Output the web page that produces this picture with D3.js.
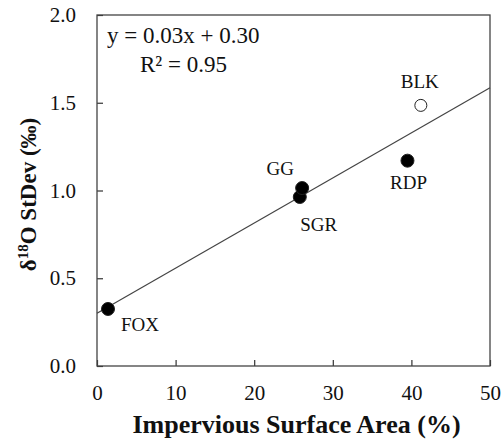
<!DOCTYPE html>
<html>
<head>
<meta charset="utf-8">
<script src="https://cdn.jsdelivr.net/npm/d3@7"></script>
<style>
  body { margin: 0; background: #fff; }
  text { font-family: "Liberation Serif", "Times New Roman", serif; }
</style>
</head>
<body>
<div id="chart"></div>
<script>
var w = 504;
var h = 440;

// site data
var sites = ["FOX", "SGR", "GG", "RDP", "BLK"];
var impervious = [1.4, 25.8, 26.1, 39.5, 41.2];
var stdev = [0.325, 0.963, 1.014, 1.17, 1.485];
var filled = [true, true, true, true, false];

var xTicks = [0, 10, 20, 30, 40, 50];
var yTicks = [0.0, 0.5, 1.0, 1.5, 2.0];

// regression line as drawn
var lineIntercept = 0.30;
var lineSlope = 0.0257;

var margin = {left: 97, right: 14, top: 15, bottom: 74};
var width = w - margin.left - margin.right,
    height = h - margin.top - margin.bottom;

var svg = d3.select("#chart")
    .append("svg")
    .attr("width", w)
    .attr("height", h);

var xScale = d3.scaleLinear().domain([0, 50]).range([0, width]),
    yScale = d3.scaleLinear().domain([0, 2]).range([height, 0]);

var g = svg.append("g")
    .attr("transform", "translate(" + margin.left + "," + margin.top + ")");

// x axis, ticks pointing in
var xAxis = g.append("g")
    .attr("transform", "translate(0," + height + ")")
    .call(d3.axisBottom(xScale).tickValues(xTicks).tickSizeInner(-6).tickSizeOuter(0).tickPadding(19));
xAxis.selectAll("text").attr("font-size", 21).attr("font-family", "Liberation Serif").attr("fill", "#111");

// y axis
var yAxis = g.append("g")
    .call(d3.axisLeft(yScale).tickValues(yTicks).tickFormat(d3.format(".1f"))
      .tickSizeInner(-6).tickSizeOuter(0).tickPadding(21));
yAxis.selectAll("text").attr("font-size", 21).attr("font-family", "Liberation Serif").attr("fill", "#111");

g.selectAll(".domain").remove();
g.selectAll(".tick line").attr("stroke", "#333").attr("stroke-width", 1.2);

// frame
g.append("rect")
    .attr("width", width)
    .attr("height", height)
    .attr("fill", "none")
    .attr("stroke", "#444")
    .attr("stroke-width", 1.3);

// regression line
g.append("line")
    .attr("x1", xScale(0))
    .attr("y1", yScale(lineIntercept))
    .attr("x2", xScale(50))
    .attr("y2", yScale(lineIntercept + lineSlope * 50))
    .attr("stroke", "#444")
    .attr("stroke-width", 1.2);

// points
var data = sites.map(function(s, i) {
  return {site: s, x: impervious[i], y: stdev[i], filled: filled[i]};
});

g.selectAll("circle")
    .data(data)
    .enter().append("circle")
    .attr("cx", function(d) { return xScale(d.x); })
    .attr("cy", function(d) { return yScale(d.y); })
    .attr("r", function(d) { return d.filled ? 6.5 : 6; })
    .attr("fill", function(d) { return d.filled ? "#000" : "#fff"; })
    .attr("stroke", "#222")
    .attr("stroke-width", 1);

// point labels
var labelOffset = {FOX: [32, 22], SGR: [19, 34], GG: [-22, -13], RDP: [1, 28], BLK: [-1, -17]};
g.selectAll(".lbl")
    .data(data)
    .enter().append("text")
    .attr("class", "lbl")
    .attr("x", function(d) { return xScale(d.x) + labelOffset[d.site][0]; })
    .attr("y", function(d) { return yScale(d.y) + labelOffset[d.site][1]; })
    .attr("text-anchor", "middle")
    .attr("font-size", 19)
    .attr("fill", "#111")
    .text(function(d) { return d.site; });

// equation
g.append("text")
    .attr("x", 10)
    .attr("y", 28)
    .attr("font-size", 23)
    .attr("fill", "#111")
    .text("y = 0.03x + 0.30");
g.append("text")
    .attr("x", 43)
    .attr("y", 57)
    .attr("font-size", 23)
    .attr("fill", "#111")
    .text("R² = 0.95");

// axis titles
svg.append("text")
    .attr("x", margin.left + width / 2 + 3)
    .attr("y", 433)
    .attr("text-anchor", "middle")
    .attr("font-size", 26)
    .attr("font-weight", "bold")
    .attr("fill", "#111")
    .text("Impervious Surface Area (%)");

var yt = svg.append("text")
    .attr("transform", "translate(36," + (margin.top + height / 2 + 4) + ") rotate(-90)")
    .attr("text-anchor", "middle")
    .attr("font-size", 23)
    .attr("font-weight", "bold")
    .attr("fill", "#111");
yt.append("tspan").text("δ");
yt.append("tspan").attr("font-size", 15).attr("dy", -8).text("18");
yt.append("tspan").attr("dy", 8).text("O StDev (‰)");
</script>
</body>
</html>
